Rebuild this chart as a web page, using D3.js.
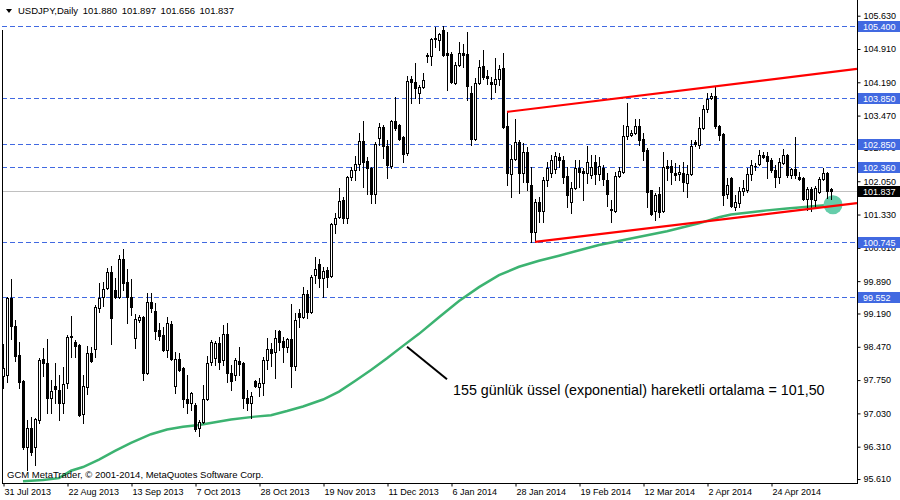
<!DOCTYPE html>
<html><head><meta charset="utf-8">
<script src="https://cdn.jsdelivr.net/npm/d3@7"></script>
<style>html,body{margin:0;padding:0;background:#fff}svg{display:block}</style>
</head><body><svg id="c" width="900" height="500"></svg>
<script>
// ---- data ----
const symbolTitle = "USDJPY,Daily";
const lastOHLC = ["101.880", "101.897", "101.656", "101.837"];
const xTickLabels = ["31 Jul 2013","22 Aug 2013","13 Sep 2013","7 Oct 2013","28 Oct 2013","19 Nov 2013","11 Dec 2013","6 Jan 2014","28 Jan 2014","19 Feb 2014","12 Mar 2014","2 Apr 2014","24 Apr 2014"];
const xTickBars = [0,16,32,48,64,80,96,112,128,144,160,176,192];
const yTickValues = [95.610,96.310,97.030,97.750,98.470,99.190,99.890,100.610,101.330,102.050,102.770,103.470,104.190,104.910,105.630];
const levelLines = [105.400,103.850,102.850,102.360,100.745,99.552];
const currentPrice = 101.837;

const opens = [97.84,97.86,99.53,98.92,98.29,97.73,96.30,96.71,96.30,96.89,98.20,98.12,97.36,97.62,97.54,97.25,97.69,98.70,98.57,98.51,
97.01,97.60,98.34,98.42,99.31,99.55,99.74,100.09,99.70,99.55,100.37,99.87,99.55,98.66,99.05,99.12,97.90,99.44,99.24,98.83,
98.73,98.40,98.96,97.62,98.20,98.01,97.34,97.25,97.21,96.71,96.84,97.34,98.14,98.23,98.55,98.18,98.75,97.90,97.86,98.16,
98.12,97.36,97.25,97.73,97.60,97.69,98.18,98.42,98.36,98.81,98.59,98.47,98.64,98.05,99.20,99.12,99.61,99.22,100.02,100.26,
99.96,100.13,100.00,101.12,101.28,101.64,101.25,102.14,102.29,102.42,102.92,102.49,102.34,101.77,102.98,103.22,102.81,102.38,103.35,103.27,
103.01,102.66,104.26,104.20,103.96,104.09,104.78,104.76,105.15,105.10,105.32,104.82,104.80,104.18,104.56,104.82,104.80,103.96,102.96,104.18,
104.54,104.33,104.20,104.15,104.26,104.50,103.24,102.21,102.53,102.90,102.23,102.68,101.97,100.95,101.60,101.41,102.08,102.23,102.32,102.57,
102.51,102.16,101.60,101.90,102.34,102.27,102.23,102.19,102.47,102.21,102.34,102.08,101.45,101.41,102.16,102.25,103.03,103.05,103.09,103.24,
102.96,102.73,101.86,101.41,101.77,101.41,102.38,102.38,102.23,102.21,102.23,102.01,102.21,102.90,102.83,103.20,103.61,103.85,103.89,103.24,
103.07,101.77,102.12,101.49,101.58,101.84,101.86,102.21,102.38,102.42,102.62,102.60,102.51,102.29,102.14,102.45,102.62,102.19,102.32,102.14,
102.12,101.67,101.88,101.64,101.82,102.10,102.23,101.880];
const highs = [98.53,99.55,99.94,99.05,98.57,97.75,96.89,96.95,96.93,98.22,98.44,98.64,97.75,98.12,97.86,98.03,98.73,99.14,98.62,98.53,
97.86,98.49,98.47,99.37,99.85,99.87,100.17,100.22,99.96,100.46,100.58,100.15,99.94,99.18,99.16,99.14,99.63,99.63,99.42,98.98,
98.90,99.12,99.03,98.36,98.34,98.03,97.86,97.49,97.25,96.89,97.64,98.27,98.62,98.59,98.68,98.94,98.98,98.08,98.23,98.47,
98.14,97.54,97.49,97.75,97.80,98.25,98.66,98.55,98.83,98.83,98.68,98.66,99.40,99.20,99.29,99.76,99.70,100.02,100.41,100.37,
100.20,100.20,101.15,101.36,101.90,101.71,102.16,102.36,102.60,103.09,103.35,102.57,102.36,102.90,103.31,103.27,102.94,103.37,103.87,103.29,
103.03,104.33,104.33,104.61,104.13,104.39,104.82,105.15,105.39,105.26,105.41,105.28,104.84,104.63,105.06,105.02,105.28,104.11,104.28,104.67,
104.89,104.46,104.30,104.71,104.56,104.82,103.55,102.83,103.40,102.94,102.88,102.79,102.36,101.67,101.71,102.14,102.47,102.62,102.68,102.66,
102.60,102.36,102.03,102.51,102.51,102.34,102.81,102.62,102.62,102.57,102.40,102.23,101.64,102.25,102.36,103.27,103.74,103.16,103.40,103.40,
103.09,102.77,101.86,101.80,101.93,102.68,102.51,102.51,102.45,102.40,102.47,102.40,102.94,102.94,103.44,103.70,103.96,103.96,104.09,103.26,
103.09,102.12,102.14,101.75,101.93,102.08,102.34,102.51,102.45,102.73,102.68,102.68,102.55,102.40,102.55,102.75,102.64,102.34,103.01,102.25,
102.14,101.93,101.93,101.95,102.14,102.34,102.25,101.897];
const lows = [97.58,97.71,98.64,98.16,97.58,96.26,95.81,96.13,95.91,96.82,97.84,97.04,97.04,97.25,96.89,97.04,97.58,98.25,98.25,96.97,
96.82,97.45,98.14,98.25,99.22,99.35,99.72,98.53,99.53,99.53,99.70,98.98,99.16,98.44,99.00,97.75,97.88,99.22,98.64,98.62,
98.38,98.25,98.18,97.47,97.95,97.17,97.04,97.10,96.65,96.54,96.82,97.32,98.08,98.08,97.99,98.08,97.71,97.54,97.75,97.86,
97.15,97.10,96.93,97.60,97.40,97.43,97.99,98.05,97.80,98.40,98.14,98.36,97.60,97.97,98.90,99.09,99.09,99.20,99.85,99.76,
99.55,99.76,99.98,100.93,101.25,101.15,101.15,102.08,102.08,102.29,101.93,101.77,101.58,101.58,102.83,102.55,102.12,102.34,103.16,102.94,
102.47,102.62,103.74,103.85,103.74,104.07,104.63,104.56,104.95,104.89,104.76,104.02,104.18,104.15,104.54,104.52,103.81,102.83,102.94,104.15,
104.26,104.15,103.83,103.98,104.13,103.20,101.97,101.71,102.51,101.80,102.03,101.86,100.74,100.74,101.17,101.17,101.95,102.14,102.23,102.36,
102.01,101.49,101.36,101.88,101.93,101.64,102.01,102.12,101.99,102.08,101.97,101.51,101.17,101.38,102.14,102.23,102.96,103.03,103.07,102.83,
102.51,101.49,101.32,101.21,101.28,101.38,102.08,101.99,102.08,102.08,101.84,101.71,102.19,102.81,102.77,103.18,103.55,103.83,103.20,102.94,
101.54,101.69,101.49,101.43,101.49,101.75,101.82,102.08,102.29,102.40,102.55,102.12,102.25,101.93,102.01,102.43,102.14,102.12,102.12,102.08,
101.64,101.43,101.41,101.47,101.80,102.08,101.69,101.656];
const closes = [98.01,99.53,98.92,98.27,97.71,96.30,96.71,96.19,96.91,98.18,98.12,97.36,97.51,97.56,97.25,97.67,98.68,98.69,98.49,96.99,
97.62,98.34,98.16,99.33,99.53,99.72,100.09,99.09,99.55,100.37,99.85,99.55,99.33,99.07,99.12,97.90,99.44,99.31,98.81,98.70,
98.40,98.98,98.20,98.20,97.97,97.34,97.25,97.47,96.69,96.84,97.34,98.12,98.57,98.55,98.14,98.75,97.90,97.73,98.18,98.10,
97.36,97.25,97.40,97.62,97.69,98.18,98.42,98.34,98.66,98.57,98.47,98.64,98.05,99.05,99.12,99.61,99.22,99.98,100.15,99.96,
100.11,99.98,101.12,101.25,101.62,101.25,102.14,102.29,102.42,102.92,102.47,102.34,101.77,102.86,103.22,102.81,102.40,103.35,103.20,102.96,
102.64,104.22,104.20,104.07,104.09,104.24,104.76,105.13,105.12,105.23,104.78,104.78,104.20,104.56,104.82,104.79,104.11,102.96,104.18,104.52,
104.30,104.28,104.15,104.26,104.48,103.22,102.23,102.53,102.90,102.23,102.68,102.03,100.95,101.60,101.41,102.08,102.34,102.51,102.60,102.51,
102.14,101.75,101.90,102.34,102.25,102.23,102.47,102.36,102.21,102.38,102.10,101.77,101.42,102.16,102.27,103.03,103.24,103.09,103.24,102.94,
102.70,101.82,101.34,101.75,101.38,102.36,102.34,102.25,102.19,102.25,102.03,102.21,102.81,102.86,103.20,103.61,103.83,103.89,103.24,103.05,
101.75,101.97,101.51,101.60,101.84,101.90,102.21,102.40,102.37,102.62,102.57,102.49,102.29,102.14,102.47,102.62,102.19,102.32,102.19,102.10,
101.67,101.88,101.67,101.90,102.10,102.23,101.84,101.837];

// 155-day EMA, read at selected bars: [bar index, value]
const emaBars = [5,10,14,17,20,24,28,32,37,41,45,49,57,63,67,71,75,80,84,88,92,96,100,104,109,114,119,124,129,134,139,145,149,157,166,174,179,182,187,191,196,199,204,207];
const emaValues = [95.56,95.59,95.63,95.79,95.87,96.03,96.22,96.39,96.58,96.68,96.74,96.78,96.90,96.96,96.99,97.08,97.18,97.33,97.50,97.73,97.97,98.22,98.49,98.75,99.11,99.46,99.76,100.02,100.20,100.33,100.44,100.58,100.67,100.81,100.97,101.14,101.27,101.33,101.38,101.42,101.46,101.48,101.52,101.54];

// channel trend lines: [bar index, price]
const upperTrend = [[126,103.55],[213.5,104.48]];
const lowerTrend = [[133,100.74],[213.5,101.575]];
const highlight = {bar:207.5, price:101.54};
const annotationLine = [[101,98.47],[111,97.77]];
const annotationText = "155 günlük üssel (exponential) hareketli ortalama = 101,50";
const annotationAt = {bar:112.5, price:97.43};
const copyright = "GCM MetaTrader, © 2001-2014, MetaQuotes Software Corp.";

// ---- layout ----
const plotL = 2, plotR = 857, plotT = 0, plotB = 483;
const font = "'Liberation Sans', Arial, sans-serif";
const svg = d3.select("#c");
const x = d3.scaleLinear().domain([0,207]).range([3,831]);
const y = d3.scaleLinear().domain([95.5245,105.9695]).range([483,0]);

svg.append("defs").append("clipPath").attr("id","clip")
  .append("rect").attr("x",plotL).attr("y",plotT).attr("width",plotR-plotL).attr("height",plotB-plotT);
const g = svg.append("g").attr("clip-path","url(#clip)");

// level lines
g.selectAll("line.lvl").data(levelLines).join("line").attr("class","lvl")
  .attr("x1",plotL).attr("x2",plotR)
  .attr("y1",d=>Math.round(y(d))+0.5).attr("y2",d=>Math.round(y(d))+0.5)
  .attr("stroke","#4169E1").attr("stroke-width",1).attr("stroke-dasharray","5,3");
// current price line
g.append("line").attr("x1",plotL).attr("x2",plotR)
  .attr("y1",Math.round(y(currentPrice))+0.5).attr("y2",Math.round(y(currentPrice))+0.5)
  .attr("stroke","#C0C0C0").attr("stroke-width",1);

// EMA
const emaPts = emaBars.map((b,i)=>[b,emaValues[i]]);
g.append("path").datum(emaPts)
  .attr("d", d3.line().x(d=>x(d[0])).y(d=>y(d[1])))
  .attr("fill","none").attr("stroke","#3CB371").attr("stroke-width",2.5);

// highlight circle
g.append("circle").attr("cx",x(highlight.bar)).attr("cy",y(highlight.price)).attr("r",9.5)
  .attr("fill","#66CDAA");

// candles
const bars = opens.map((o,i)=>({i,o,h:highs[i],l:lows[i],c:closes[i]}));
const cg = g.append("g").attr("shape-rendering","crispEdges");
bars.forEach(d=>{
  const cx = Math.round(x(d.i));
  const yo = Math.round(y(d.o)), yc = Math.round(y(d.c));
  const yh = Math.round(y(d.h)), yl = Math.round(y(d.l));
  cg.append("rect").attr("x",cx).attr("y",yh).attr("width",1).attr("height",Math.max(1,yl-yh+1)).attr("fill","#000");
  const top = Math.min(yo,yc), bot = Math.max(yo,yc);
  cg.append("rect").attr("x",cx-1).attr("y",top).attr("width",3).attr("height",bot-top+1).attr("fill","#000");
  if (d.c > d.o && bot-top-1 > 0) {
    cg.append("rect").attr("x",cx).attr("y",top+1).attr("width",1).attr("height",bot-top-1).attr("fill","#fff");
  }
});

// trend lines
const tl = d3.line().x(d=>x(d[0])).y(d=>y(d[1]));
[upperTrend, lowerTrend].forEach(t=>{
  g.append("path").datum(t).attr("d",tl).attr("fill","none").attr("stroke","#FF0000").attr("stroke-width",2.2);
});
// annotation
g.append("path").datum(annotationLine).attr("d",tl).attr("fill","none").attr("stroke","#000").attr("stroke-width",2);
svg.append("text").attr("x",x(annotationAt.bar)).attr("y",y(annotationAt.price))
  .attr("font-family",font).attr("font-size",14.3).attr("fill","#000").text(annotationText);

// frame
svg.append("line").attr("x1",plotL+0.5).attr("x2",plotL+0.5).attr("y1",30).attr("y2",plotB).attr("stroke","#000");

// right axis
const ya = svg.append("g").attr("transform",`translate(${plotR+0.5},0)`)
  .call(d3.axisRight(y).tickValues(yTickValues).tickFormat(d3.format(".3f")).tickSize(3).tickPadding(3));
ya.select(".domain").attr("d",`M0,0V${plotB+0.5}`).attr("stroke","#000");
ya.selectAll("text").attr("font-family",font).attr("font-size",9).attr("fill","#000");
ya.selectAll("line").attr("stroke","#000");

// bottom axis
const xa = svg.append("g").attr("transform",`translate(0,${plotB+0.5})`)
  .call(d3.axisBottom(x).tickValues(xTickBars).tickFormat((d,i)=>xTickLabels[i]).tickSize(3).tickPadding(2));
xa.select(".domain").attr("d",`M${plotL},0H${plotR+1}`).attr("stroke","#000");
xa.selectAll(".tick line").attr("stroke","#000").attr("transform","translate(0.5,0)");
xa.selectAll("text").attr("text-anchor","start").attr("dx",1)
  .attr("font-family",font).attr("font-size",9).attr("fill","#000");

// level labels on the axis
const lab = svg.append("g");
levelLines.forEach(v=>{
  const yy = Math.round(y(v));
  lab.append("rect").attr("x",plotR+1).attr("y",yy-5).attr("width",900-plotR-1).attr("height",11).attr("fill","#4169E1");
  lab.append("text").attr("x",plotR+6).attr("y",yy+3.5).attr("font-family",font).attr("font-size",9)
    .attr("fill","#fff").text(d3.format(".3f")(v));
});
{
  const yy = Math.round(y(currentPrice));
  lab.append("rect").attr("x",plotR+1).attr("y",yy-5).attr("width",900-plotR-1).attr("height",11).attr("fill","#000");
  lab.append("text").attr("x",plotR+6).attr("y",yy+3.5).attr("font-family",font).attr("font-size",9)
    .attr("fill","#fff").text(d3.format(".3f")(currentPrice));
}

// title
svg.append("path").attr("d","M6,9L12,9L9,13Z").attr("fill","#000");
svg.append("text").attr("x",18).attr("y",14).attr("font-family",font).attr("font-size",9.5).attr("fill","#000")
  .attr("word-spacing",2).text(symbolTitle + "  " + lastOHLC.join(" "));
// copyright
svg.append("text").attr("x",7).attr("y",478).attr("font-family",font).attr("font-size",9.5).attr("fill","#000").text(copyright);
</script></body></html>
